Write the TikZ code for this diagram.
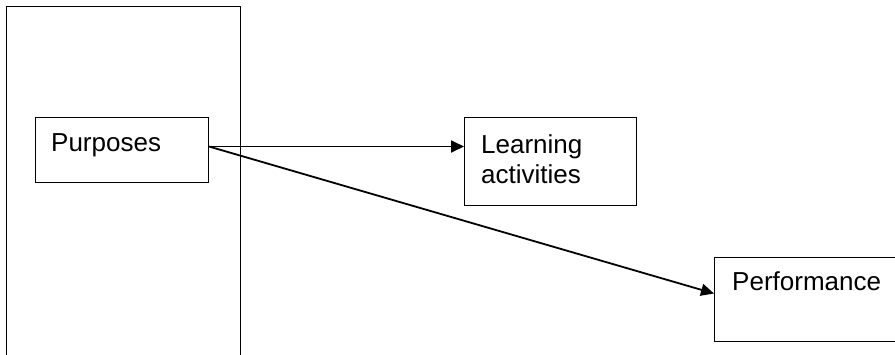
\documentclass[tikz,border=0pt]{standalone}
\usepackage{fontspec}
\setmainfont{Liberation Sans}
\usetikzlibrary{arrows.meta}

\begin{document}
\begin{tikzpicture}[x=1pt,y=-1pt,
    box/.style={draw, line width=1pt, inner sep=0pt, anchor=north west},
    txt/.style={anchor=base west, inner sep=0pt, font=\fontsize{26}{30}\selectfont, align=left},
    arr/.style={line width=1.8pt, -{Triangle[length=13pt,width=12pt]}}]
            \useasboundingbox (0,0) rectangle (895,354);
            \clip (0,0) rectangle (895,354);
            \node[box, minimum width=234pt, minimum height=400pt] (grp) at (6,6) {};
            \node[box, minimum width=173pt, minimum height=65pt] (purp) at (35,117) {};
            \node[box, minimum width=172pt, minimum height=88pt] (learn) at (464,117) {};
            \node[box, minimum width=220pt, minimum height=84pt] (perf) at (714,257) {};
            \node[txt] (purptxt) at (51,151) {Purposes};
            \node[txt] (learntxt) at (481,183) {Learning\\activities};
            \node[txt] (perftxt) at (732,290) {Performance};
            \draw[arr] ([yshift=3.5pt]purp.east) -- ([yshift=15pt]learn.west);
            \draw[arr] ([yshift=3.5pt]purp.east) -- ([yshift=6pt]perf.west);
        \end{tikzpicture}
\end{document}
